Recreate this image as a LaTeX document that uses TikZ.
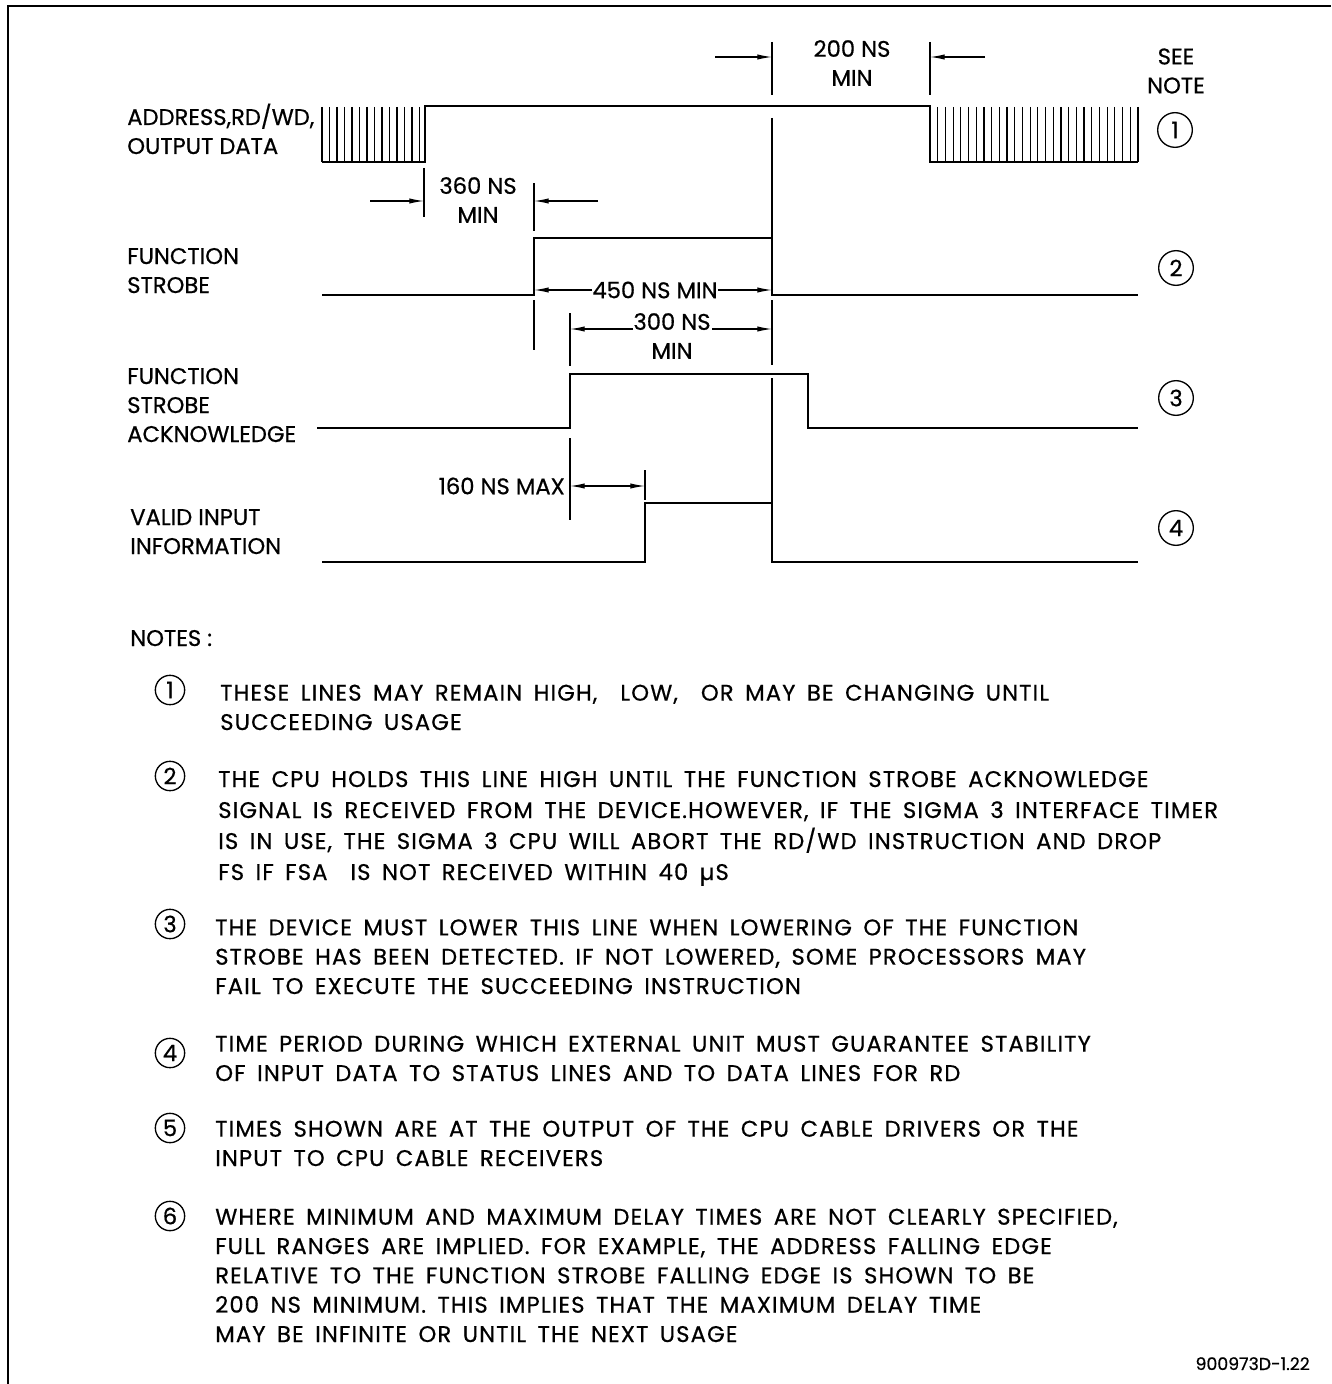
\documentclass[tikz,border=0pt]{standalone}
\usepackage{fontspec}
\setmainfont{Poppins}[FakeBold=0.6]
\newfontfamily\notefont[LetterSpace=5, WordSpace=1.6, FakeBold=0.6]{Poppins}
\usetikzlibrary{arrows.meta, positioning}

\begin{document}
\begin{tikzpicture}[
  x=0.75pt, y=-0.75pt,
  font=\fontsize{17}{21.75}\selectfont,
  signal/.style={line width=1.7pt, line join=miter},
  tick/.style={line width=0.9pt},
  dim/.style={draw, -{Latex[length=11pt,width=4pt]}, line width=0.9pt},
  lbl/.style={anchor=base west, align=left, inner sep=0pt},
  tag/.style={circle, draw, line width=1pt, minimum size=26pt, inner sep=0pt},
  notetag/.style={circle, draw, line width=1pt, minimum size=22pt, inner sep=0pt},
  note/.style={anchor=base west, align=left, inner sep=0pt, font=\notefont\fontsize{17}{22}\selectfont}
]
  \useasboundingbox (0,0) rectangle (1331,1384);
  % frame
  \draw[line width=1.6pt] (8,1384) -- (8,6) -- (1331,6);

  % signal names (placed on the baseline of their last line)
  \node[lbl] (addr) at (127,154) {ADDRESS,RD/WD,\\OUTPUT DATA};
  \node[lbl] (fs) at (127,293) {FUNCTION\\STROBE};
  \node[lbl] (fsa) at (127,442) {FUNCTION\\STROBE\\ACKNOWLEDGE};
  \node[lbl] (vi) at (130,554) {VALID INPUT\\INFORMATION};
  \node[align=center, inner sep=0pt] (see) at (1176,71) {SEE\\NOTE};
  \node[tag] (t1) at (1175,130) {1};
  \node[tag] (t2) at (1176,268) {2};
  \node[tag] (t3) at (1176,398) {3};
  \node[tag] (t4) at (1176,528) {4};

  % address, rd/wd, output data
  \foreach \x in {322,329.5,...,420} \draw[tick] (\x,107) -- (\x,162);
  \foreach \x in {930,937.7,...,1140} \draw[tick] (\x,107) -- (\x,162);
  \draw[signal] (322,162) -- (425,162) -- (425,106) -- (930,106) -- (930,162) -- (1138,162);

  % function strobe
  \draw[signal] (322,295) -- (534,295) -- (534,238) -- (772,238) -- (772,295) -- (1138,295);
  % function strobe acknowledge
  \draw[signal] (317,428) -- (570,428) -- (570,374) -- (808,374) -- (808,428) -- (1138,428);
  % valid input information
  \draw[signal] (322,562) -- (645,562) -- (645,503) -- (772,503) -- (772,562) -- (1138,562);

  % extension lines
  \draw[tick] (772,42) -- (772,95);
  \draw[tick] (772,118) -- (772,238);
  \draw[tick] (772,300) -- (772,365);
  \draw[tick] (772,378) -- (772,503);
  \draw[tick] (930,42) -- (930,95);
  \draw[tick] (424,168) -- (424,217);
  \draw[tick] (534,183) -- (534,231);
  \draw[tick] (534,300) -- (534,350);
  \draw[tick] (570,313) -- (570,366);
  \draw[tick] (570,438) -- (570,520);
  \draw[tick] (645,470) -- (645,500);

  % 200 ns
  \node[align=center, inner sep=0pt] (d200) at (852,63) {200 NS\\MIN};
  \draw[dim] (715,57) -- (772,57);
  \draw[dim] (985,57) -- (930,57);
  % 360 ns
  \node[align=center, inner sep=0pt] (d360) at (478,200) {360 NS\\MIN};
  \draw[dim] (370,201) -- (424,201);
  \draw[dim] (598,201) -- (534,201);
  % 450 ns
  \node[inner sep=0pt] (d450) at (655,290) {450 NS MIN};
  \draw[dim] (d450.west) -- (534,290);
  \draw[dim] (d450.east) -- (772,290);
  % 300 ns
  \node[align=center, inner sep=0pt] (d300) at (672,336) {300 NS\\MIN};
  \draw[dim] (633,329) -- (570,329);
  \draw[dim] (712,329) -- (772,329);
  % 160 ns
  \node[anchor=east, inner sep=0pt] (d160) at (565,486) {160 NS MAX};
  \draw[dim, {Latex[length=11pt,width=4pt]}-{Latex[length=11pt,width=4pt]}] (570,486) -- (645,486);

  % notes
  \node[lbl] (notes) at (130,646) {NOTES :};
  \node[notetag] (n1) at (170,690) {1};
  \node[note] (n1txt) at (220,730) {THESE LINES MAY REMAIN HIGH,\ \ LOW,\ \ OR MAY BE CHANGING UNTIL\\SUCCEEDING USAGE};
  \node[notetag] (n2) at (170,776) {2};
  \node[note, font=\notefont\fontsize{17}{23.25}\selectfont] (n2txt) at (218,880) {THE CPU HOLDS THIS LINE HIGH UNTIL THE FUNCTION STROBE ACKNOWLEDGE\\SIGNAL IS RECEIVED FROM THE DEVICE.HOWEVER, IF THE SIGMA 3 INTERFACE TIMER\\IS IN USE, THE SIGMA 3 CPU WILL ABORT THE RD/WD INSTRUCTION AND DROP\\FS IF FSA\ \ IS NOT RECEIVED WITHIN 40 µS};
  \node[notetag] (n3) at (170,924) {3};
  \node[note] (n3txt) at (215,994) {THE DEVICE MUST LOWER THIS LINE WHEN LOWERING OF THE FUNCTION\\STROBE HAS BEEN DETECTED. IF NOT LOWERED, SOME PROCESSORS MAY\\FAIL TO EXECUTE THE SUCCEEDING INSTRUCTION};
  \node[notetag] (n4) at (170,1053) {4};
  \node[note] (n4txt) at (215,1081) {TIME PERIOD DURING WHICH EXTERNAL UNIT MUST GUARANTEE STABILITY\\OF INPUT DATA TO STATUS LINES AND TO DATA LINES FOR RD};
  \node[notetag] (n5) at (170,1128) {5};
  \node[note] (n5txt) at (215,1166) {TIMES SHOWN ARE AT THE OUTPUT OF THE CPU CABLE DRIVERS OR THE\\INPUT TO CPU CABLE RECEIVERS};
  \node[notetag] (n6) at (170,1216) {6};
  \node[note] (n6txt) at (215,1342) {WHERE MINIMUM AND MAXIMUM DELAY TIMES ARE NOT CLEARLY SPECIFIED,\\FULL RANGES ARE IMPLIED. FOR EXAMPLE, THE ADDRESS FALLING EDGE\\RELATIVE TO THE FUNCTION STROBE FALLING EDGE IS SHOWN TO BE\\200 NS MINIMUM. THIS IMPLIES THAT THE MAXIMUM DELAY TIME\\MAY BE INFINITE OR UNTIL THE NEXT USAGE};
  \node[anchor=base east, inner sep=0pt, font=\fontsize{13}{15}\selectfont] (code) at (1310,1370) {900973D-1.22};
\end{tikzpicture}
\end{document}
